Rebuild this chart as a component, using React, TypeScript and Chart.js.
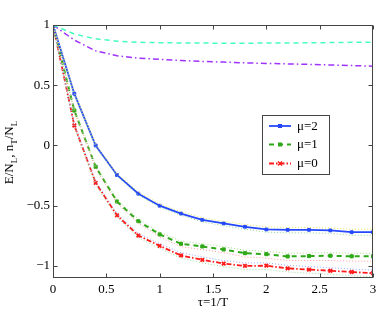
import React, { useEffect, useRef } from "react";
import { Chart, registerables } from "chart.js";

Chart.register(...registerables);

const tau = [0, 0.2, 0.4, 0.6, 0.8, 1, 1.2, 1.4, 1.6, 1.8, 2, 2.2, 2.4, 2.6, 2.8, 3];

const mu2 = [1, 0.43, 0.0, -0.245, -0.4, -0.5, -0.565, -0.617, -0.647, -0.675, -0.697, -0.7, -0.7, -0.705, -0.72, -0.72];
const mu2Upper = [1, 0.44, 0.01, -0.235, -0.385, -0.485, -0.55, -0.6, -0.63, -0.655, -0.675, -0.68, -0.68, -0.685, -0.695, -0.695];
const mu2Lower = [1, 0.42, -0.01, -0.255, -0.41, -0.515, -0.58, -0.635, -0.665, -0.695, -0.72, -0.725, -0.725, -0.73, -0.745, -0.745];

const mu1 = [1, 0.29, -0.177, -0.465, -0.628, -0.738, -0.816, -0.838, -0.863, -0.894, -0.902, -0.921, -0.918, -0.915, -0.92, -0.92];
const mu1Upper = [1, 0.3, -0.165, -0.45, -0.61, -0.72, -0.795, -0.815, -0.84, -0.87, -0.878, -0.895, -0.893, -0.89, -0.895, -0.895];
const mu1Lower = [1, 0.28, -0.19, -0.48, -0.645, -0.76, -0.84, -0.865, -0.89, -0.925, -0.935, -0.955, -0.955, -0.955, -0.96, -0.96];

const mu0 = [1, 0.166, -0.31, -0.58, -0.747, -0.833, -0.913, -0.949, -0.98, -1.0, -0.998, -1.02, -1.03, -1.04, -1.05, -1.06];
const mu0Upper = [1, 0.175, -0.295, -0.565, -0.73, -0.815, -0.89, -0.925, -0.955, -0.975, -0.975, -0.995, -1.005, -1.015, -1.025, -1.035];
const mu0Lower = [1, 0.155, -0.325, -0.595, -0.765, -0.855, -0.935, -0.975, -1.005, -1.03, -1.03, -1.05, -1.06, -1.07, -1.08, -1.09];

const nT1 = [1, 0.925, 0.885, 0.866, 0.857, 0.853, 0.851, 0.85, 0.849, 0.849, 0.85, 0.851, 0.852, 0.854, 0.856, 0.857];
const nT2 = [1, 0.875, 0.785, 0.745, 0.725, 0.715, 0.705, 0.698, 0.692, 0.686, 0.681, 0.677, 0.673, 0.668, 0.663, 0.658];

const legendLabels = ["\u03bc=2", "\u03bc=1", "\u03bc=0"];
const xTicks = [0, 0.5, 1, 1.5, 2, 2.5, 3];
const yTicks = [-1, -0.5, 0, 0.5, 1];

const FONT = "Liberation Serif";
const BLUE = "#2548ff";
const GREEN = "#2ea818";
const RED = "#ff1a1a";
const CYAN = "#45ffbd";
const PURPLE = "#a033ff";

const pts = (arr: number[]) => tau.map((x, i) => ({ x, y: arr[i] }));

const boxPlugin = {
  id: "boxPlugin",
  afterDatasetsDraw(chart: any) {
    const { ctx, chartArea, scales } = chart;
    const { left, right, top, bottom } = chartArea;
    const L = Math.round(left) + 0.5;
    const R = Math.round(right) - 0.5;
    const T = Math.round(top) + 0.5;
    const B = Math.round(bottom) - 0.5;
    ctx.save();
    ctx.strokeStyle = "#444";
    ctx.lineWidth = 1;
    ctx.setLineDash([]);
    ctx.strokeRect(L, T, R - L, B - T);
    ctx.beginPath();
    xTicks.forEach((v) => {
      const px = Math.round(scales.x.getPixelForValue(v)) + 0.5;
      ctx.moveTo(px, B);
      ctx.lineTo(px, B - 4);
      ctx.moveTo(px, T);
      ctx.lineTo(px, T + 4);
    });
    yTicks.forEach((v) => {
      const py = Math.round(scales.y.getPixelForValue(v)) + 0.5;
      ctx.moveTo(L, py);
      ctx.lineTo(L + 4, py);
      ctx.moveTo(R, py);
      ctx.lineTo(R - 4, py);
    });
    ctx.stroke();
    ctx.restore();
  },
};

const yTitlePlugin = {
  id: "yTitlePlugin",
  afterDraw(chart: any) {
    const { ctx, chartArea } = chart;
    const parts: [string, boolean][] = [
      ["E/N", false],
      ["L", true],
      [", n", false],
      ["T", true],
      ["/N", false],
      ["L", true],
    ];
    const mainFont = `13px ${FONT}`;
    const subFont = `9px ${FONT}`;
    ctx.save();
    let total = 0;
    parts.forEach(([t, sub]) => {
      ctx.font = sub ? subFont : mainFont;
      total += ctx.measureText(t).width;
    });
    ctx.translate(13, (chartArea.top + chartArea.bottom) / 2 + 1);
    ctx.rotate(-Math.PI / 2);
    ctx.fillStyle = "#000";
    ctx.textBaseline = "alphabetic";
    ctx.textAlign = "left";
    let u = -total / 2;
    parts.forEach(([t, sub]) => {
      ctx.font = sub ? subFont : mainFont;
      ctx.fillText(t, u, sub ? 4 : 0);
      u += ctx.measureText(t).width;
    });
    ctx.restore();
  },
};

const legendPlugin = {
  id: "legendPlugin",
  afterDraw(chart: any) {
    const { ctx } = chart;
    const x0 = 262.5, y0 = 115.5, w = 67, h = 59;
    ctx.save();
    ctx.fillStyle = "#fff";
    ctx.fillRect(x0, y0, w, h);
    ctx.strokeStyle = "#444";
    ctx.lineWidth = 1;
    ctx.strokeRect(x0, y0, w, h);
    const styles = [
      { color: BLUE, dash: [] as number[], width: 1.8, marker: "rect" },
      { color: GREEN, dash: [5, 4], width: 2, marker: "rect" },
      { color: RED, dash: [5, 2, 1.5, 2], width: 1.8, marker: "cross" },
    ];
    const ys = [126, 144.5, 163.5];
    styles.forEach((s, i) => {
      const y = ys[i];
      ctx.strokeStyle = s.color;
      ctx.lineWidth = s.width;
      ctx.setLineDash(s.dash);
      ctx.beginPath();
      ctx.moveTo(269, y);
      ctx.lineTo(291, y);
      ctx.stroke();
      ctx.setLineDash([]);
      ctx.fillStyle = s.color;
      if (s.marker === "rect") {
        ctx.fillRect(278, y - 2, 4, 4);
      } else {
        ctx.lineWidth = 1.5;
        ctx.beginPath();
        ctx.moveTo(278, y - 2);
        ctx.lineTo(282, y + 2);
        ctx.moveTo(282, y - 2);
        ctx.lineTo(278, y + 2);
        ctx.stroke();
      }
      ctx.fillStyle = "#000";
      ctx.font = `13px ${FONT}`;
      ctx.textBaseline = "middle";
      ctx.textAlign = "left";
      ctx.fillText(legendLabels[i], 297, y + 0.5);
    });
    ctx.restore();
  },
};

export default function App() {
  const ref = useRef<HTMLCanvasElement | null>(null);
  useEffect(() => {
    if (!ref.current) return;
    const dotted = (data: number[], color: string) => ({
      data: pts(data),
      borderColor: color,
      borderWidth: 1,
      borderDash: [1, 2],
      pointRadius: 0,
      fill: false,
      tension: 0,
    });
    const chart = new Chart(ref.current, {
      type: "line",
      data: {
        datasets: [
          { ...dotted(nT1, CYAN), borderDash: [5, 4], borderWidth: 1.5 },
          { ...dotted(nT2, PURPLE), borderDash: [6, 3, 1.5, 3], borderWidth: 1.5 },
          dotted(mu2Upper, "#e6e65a"),
          dotted(mu2Lower, "#8fd88f"),
          dotted(mu1Upper, "#a6dc8a"),
          dotted(mu1Lower, "#ff9a9a"),
          dotted(mu0Upper, "#9aa8ff"),
          dotted(mu0Lower, "#9ade9a"),
          {
            label: legendLabels[0],
            data: pts(mu2),
            borderColor: BLUE,
            backgroundColor: BLUE,
            borderWidth: 1.8,
            pointStyle: "rect",
            pointRadius: 2,
            pointBorderWidth: 1,
            tension: 0,
          },
          {
            label: legendLabels[1],
            data: pts(mu1),
            borderColor: GREEN,
            backgroundColor: GREEN,
            borderWidth: 2,
            borderDash: [5, 4],
            pointStyle: "rect",
            pointRadius: 2.2,
            pointBorderWidth: 1,
            tension: 0,
          },
          {
            label: legendLabels[2],
            data: pts(mu0),
            borderColor: RED,
            backgroundColor: RED,
            borderWidth: 1.8,
            borderDash: [5, 2, 1.5, 2],
            pointStyle: "crossRot",
            pointRadius: 2.5,
            pointBorderWidth: 1.8,
            tension: 0,
          },
        ],
      },
      options: {
        animation: false,
        responsive: false,
        layout: { padding: { top: 25, right: 9, left: 0, bottom: 0 } },
        plugins: {
          legend: { display: false },
          tooltip: { enabled: false },
        },
        scales: {
          x: {
            type: "linear",
            min: 0,
            max: 3,
            grid: { display: false, drawTicks: false },
            border: { display: false },
            afterBuildTicks: (s: any) => {
              s.ticks = xTicks.map((v) => ({ value: v }));
            },
            afterFit: (s: any) => {
              s.height = 34;
            },
            ticks: {
              padding: 4,
              color: "#000",
              font: { family: FONT, size: 13 },
              maxRotation: 0,
              callback: (v: any) => String(v),
            },
            title: {
              display: true,
              text: "\u03c4=1/T",
              color: "#000",
              font: { family: FONT, size: 13 },
              padding: { top: 0, bottom: 2 },
            },
          },
          y: {
            type: "linear",
            min: -1.1,
            max: 1,
            grid: { display: false, drawTicks: false },
            border: { display: false },
            afterBuildTicks: (s: any) => {
              s.ticks = yTicks.map((v) => ({ value: v }));
            },
            afterFit: (s: any) => {
              s.width = 53;
            },
            ticks: {
              padding: 3,
              color: "#000",
              font: { family: FONT, size: 13 },
              callback: (v: any) => String(v).replace("-", "\u2212"),
            },
          },
        },
      },
      plugins: [boxPlugin, yTitlePlugin, legendPlugin],
    } as any);
    let alive = true;
    const fonts: any = (document as any).fonts;
    if (fonts && fonts.load) {
      fonts.load(`13px "${FONT}"`).then(() => {
        if (alive) chart.update();
      }).catch(() => {});
    }
    const t = setTimeout(() => { if (alive) chart.update(); }, 50);
    return () => {
      alive = false;
      clearTimeout(t);
      chart.destroy();
    };
  }, []);
  return (
    <div style={{ position: "fixed", left: 0, top: 0, width: 382, height: 312, background: "#fff", fontFamily: FONT }}>
      <span style={{ position: "absolute", left: 0, top: 0, color: "transparent", fontSize: 13, pointerEvents: "none" }}>0.5 τ=1/T μ</span>
      <canvas ref={ref} width={382} height={312} style={{ display: "block", position: "relative" }} />
    </div>
  );
}
